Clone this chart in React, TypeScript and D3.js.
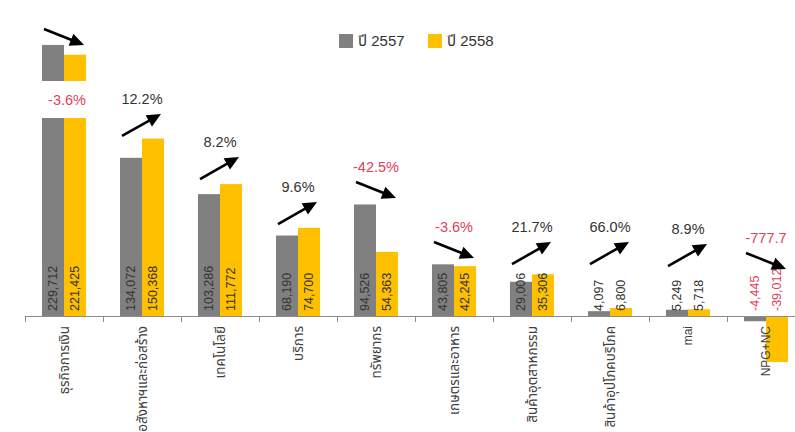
import React from "react";
import * as d3 from "d3";

const categories = [
  "ธุรกิจการเงิน",
  "อสังหาฯและก่อสร้าง",
  "เทคโนโลยี",
  "บริการ",
  "ทรัพยากร",
  "เกษตรและอาหาร",
  "สินค้าอุตสาหกรรม",
  "สินค้าอุปโภคบริโภค",
  "mai",
  "NPG+NC",
];
const seriesNames = ["ปี 2557", "ปี 2558"];
const values2557 = [229712, 134072, 103286, 68190, 94526, 43805, 29006, 4097, 5249, -4445];
const values2558 = [221425, 150368, 111772, 74700, 54363, 42245, 35306, 6800, 5718, -39012];
const changeLabels = ["-3.6%", "12.2%", "8.2%", "9.6%", "-42.5%", "-3.6%", "21.7%", "66.0%", "8.9%", "-777.7"];
const arrowUp = [false, true, true, true, false, false, true, true, true, false];
// annotation level (data units) where the arrow's top sits
const arrowLevel = [243200, 171200, 134700, 96600, 113600, 62700, 62700, 62700, 61000, 53400];

const W = 795;
const H = 432;
const GRAY = "#808080";
const YELLOW = "#FFC000";
const RED = "#E0405A";
const TEXT = "#333333";
const FONT = "Arial, 'Liberation Sans', 'Noto Sans Thai', 'Noto Sans', sans-serif";

function Arrow({ x1, y1, x2, y2 }: { x1: number; y1: number; x2: number; y2: number }) {
  const dx = x2 - x1;
  const dy = y2 - y1;
  const len = Math.sqrt(dx * dx + dy * dy);
  const ux = dx / len;
  const uy = dy / len;
  const hl = 14;
  const hw = 6.5;
  const bx = x2 - ux * hl;
  const by = y2 - uy * hl;
  const p1 = [bx - uy * hw, by + ux * hw];
  const p2 = [bx + uy * hw, by - ux * hw];
  return (
    <g>
      <line x1={x1} y1={y1} x2={bx + ux * 2} y2={by + uy * 2} stroke="#000" strokeWidth={2.6} />
      <polygon points={`${x2},${y2} ${p1[0]},${p1[1]} ${p2[0]},${p2[1]}`} fill="#000" />
    </g>
  );
}

export default function App() {
  const x0 = d3.scaleBand<string>().domain(categories).range([25, 805]).paddingInner(0).paddingOuter(0);
  const bw = x0.bandwidth();
  const x1 = d3.scaleBand<string>().domain(seriesNames).range([(bw - 44) / 2, (bw + 44) / 2]);
  const y = d3.scaleLinear().domain([0, 100000]).range([316, 198]);
  const y0 = y(0);

  const rows = categories.map((c, i) => ({
    cat: c,
    vals: [values2557[i], values2558[i]],
    label: changeLabels[i],
    up: arrowUp[i],
    level: arrowLevel[i],
  }));

  const ticks = categories.map((c) => x0(c)!).concat([x0(categories[categories.length - 1])! + bw]);
  const isLatin = (s: string) => /^[\x00-\x7F]+$/.test(s);

  return (
    <svg width={W} height={H} style={{ position: "absolute", left: 0, top: 0, background: "#fff" }} fontFamily={FONT}>
      <rect x={0} y={0} width={W} height={H} fill="#fff" />
      {/* bars */}
      {rows.map((r, i) => {
        const bx = x0(r.cat)!;
        return (
          <g key={"b" + i}>
            {r.vals.map((v, j) => {
              const xx = bx + x1(seriesNames[j])!;
              const top = Math.min(y(v), y0);
              const h = Math.abs(y(v) - y0);
              return <rect key={j} x={xx} y={top} width={x1.bandwidth()} height={h} fill={j === 0 ? GRAY : YELLOW} />;
            })}
          </g>
        );
      })}
      {/* axis break on first category */}
      <rect x={x0(categories[0])! + 10} y={81} width={bw - 20} height={37} fill="#fff" />
      {/* axis */}
      <line x1={25} x2={W} y1={y0 + 0.5} y2={y0 + 0.5} stroke="#8c8c8c" strokeWidth={1} />
      {ticks.map((t, i) => (
        <line key={"t" + i} x1={t + 0.5} x2={t + 0.5} y1={y0} y2={y0 + 6} stroke="#8c8c8c" strokeWidth={1} />
      ))}
      {/* value labels */}
      {rows.map((r, i) =>
        r.vals.map((v, j) => {
          const cx = x0(r.cat)! + x1(seriesNames[j])! + x1.bandwidth() / 2;
          return (
            <text
              key={"v" + i + "-" + j}
              transform={`translate(${cx},${y0 - 5}) rotate(-90)`}
              textAnchor="start"
              dominantBaseline="central"
              fontSize={12.5}
              fill={v < 0 ? RED : TEXT}
            >
              {d3.format(",")(v).replace("−", "-")}
            </text>
          );
        })
      )}
      {/* category labels */}
      {rows.map((r, i) => {
        const cx = x0(r.cat)! + bw / 2;
        return (
          <text
            key={"c" + i}
            transform={`translate(${cx},${y0 + 10}) rotate(-90)`}
            textAnchor="end"
            dominantBaseline="central"
            fontSize={isLatin(r.cat) ? 12 : 13.5}
            fill="#404040"
          >
            {r.cat}
          </text>
        );
      })}
      {/* change annotations */}
      {rows.map((r, i) => {
        const cx = x0(r.cat)! + bw / 2;
        const top = y(r.level);
        const neg = r.label.startsWith("-");
        const arrow = r.up ? (
          <Arrow x1={cx - 20} y1={top + 22} x2={cx + 19} y2={top} />
        ) : (
          <Arrow x1={cx - 20} y1={top} x2={cx + 20} y2={top + 16} />
        );
        const ty = i === 0 ? 99.5 : top - 15;
        const tx = i === 0 ? cx + 3 : cx;
        return (
          <g key={"a" + i}>
            {arrow}
            <text x={tx} y={ty} textAnchor="middle" dominantBaseline="central" fontSize={14.5} fill={neg ? RED : TEXT}>
              {r.label}
            </text>
          </g>
        );
      })}
      {/* legend */}
      {seriesNames.map((s, j) => {
        const lx = j === 0 ? 339 : 428;
        return (
          <g key={"l" + j}>
            <rect x={lx} y={34} width={14} height={14} fill={j === 0 ? GRAY : YELLOW} />
            <text x={lx + 19} y={46} fontSize={15} fill={TEXT}>
              {s}
            </text>
          </g>
        );
      })}
    </svg>
  );
}
